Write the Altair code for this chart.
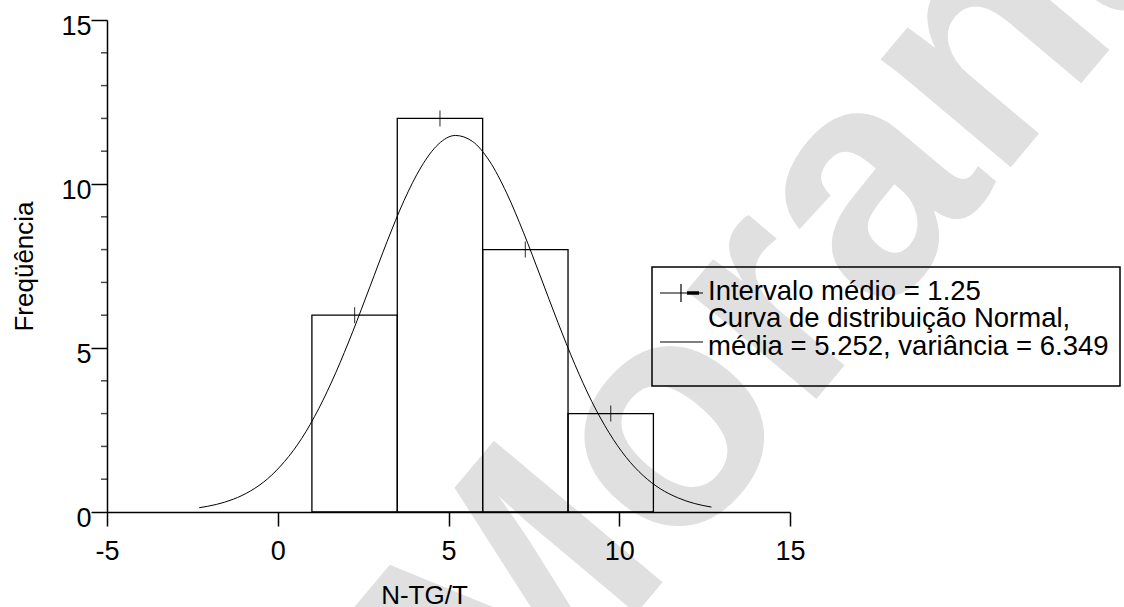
import altair as alt
import pandas as pd

# Histogram bins (N-TG/T) and frequencies
bin_start = [1.0, 3.5, 6.0, 8.5]
bin_end = [3.5, 6.0, 8.5, 11.0]
freq = [6, 12, 8, 3]
bin_mid = [2.25, 4.75, 7.25, 9.75]

# Normal curve
curve_x = [-2.3, -1.8, -1.3, -0.8, -0.3, 0.2, 0.7, 1.2, 1.7, 2.2, 2.7, 3.2, 3.7, 4.2, 4.7,
           5.2, 5.7, 6.2, 6.7, 7.2, 7.7, 8.2, 8.7, 9.2, 9.7, 10.2, 10.7, 11.2, 11.7, 12.2, 12.7]
curve_y = [0.13, 0.23, 0.39, 0.64, 1.01, 1.54, 2.24, 3.15, 4.25, 5.51, 6.87, 8.24, 9.50, 10.52, 11.21,
           11.48, 11.30, 10.70, 9.73, 8.51, 7.16, 5.79, 4.50, 3.36, 2.42, 1.67, 1.11, 0.71, 0.44, 0.26, 0.15]

x_ticks = [-5, 0, 5, 10, 15]
y_ticks = [0, 5, 10, 15]
y_minor = [1, 2, 3, 4, 6, 7, 8, 9, 11, 12, 13, 14]

legend_lines = ["Intervalo médio = 1.25",
                "Curva de distribuição Normal,",
                "média = 5.252, variância = 6.349"]

FONT = "Liberation Sans"
W, H = 683, 492
L, T = 107, 20

xs = alt.Scale(domain=[-5, 15], nice=False, zero=False)
ys = alt.Scale(domain=[0, 15], nice=False)

bars_df = pd.DataFrame({"x0": bin_start, "x1": bin_end, "f": freq, "mid": bin_mid})
curve_df = pd.DataFrame({"x": curve_x, "y": curve_y})
minor_df = pd.DataFrame({"v": y_minor})
one = pd.DataFrame({"a": [0]})

xaxis = alt.Axis(values=x_ticks, tickSize=14, tickWidth=1.5, domainWidth=1.5,
                 labelFontSize=27, labelPadding=12, labelFont=FONT, labelFlush=False,
                 labelExpr="'' + datum.value", zindex=1,
                 title="N-TG/T", titleFontSize=26, titleFont=FONT, titleFontWeight="normal",
                 titleX=317, titleY=91, titleAlign="center", titleBaseline="alphabetic",
                 grid=False, domainColor="black", tickColor="black", labelColor="black", titleColor="black")
yaxis = alt.Axis(values=y_ticks, tickSize=16, tickWidth=1.5, domainWidth=1.5,
                 labelFontSize=27, labelPadding=0, labelOffset=6, labelBaseline="middle",
                 labelFont=FONT, labelFlush=False, labelExpr="'' + datum.value", zindex=1,
                 title="Freqüência", titleFontSize=26, titleFont=FONT, titleFontWeight="normal",
                 titleAngle=270, titleX=-75, titleY=246, titleAlign="center", titleBaseline="alphabetic",
                 grid=False, domainColor="black", tickColor="black", labelColor="black", titleColor="black")

watermark = alt.Chart(one).mark_text(
    text="Morana", angle=310, fontSize=320, fontWeight="bold", font=FONT,
    color="#e0e0e0", align="left", baseline="alphabetic"
).encode(x=alt.value(505 - L), y=alt.value(770 - T))

bars = alt.Chart(bars_df).mark_rect(fillOpacity=0, stroke="black", strokeWidth=1.3).encode(
    x=alt.X("x0:Q", scale=xs, axis=xaxis),
    x2="x1:Q",
    y=alt.Y("f:Q", scale=ys, axis=yaxis),
    y2=alt.datum(0),
)

curve = alt.Chart(curve_df).mark_line(color="black", strokeWidth=1, interpolate="monotone").encode(
    x=alt.X("x:Q", scale=xs), y=alt.Y("y:Q", scale=ys)
)

bar_ticks = alt.Chart(bars_df).mark_tick(orient="vertical", size=16, thickness=1.2, color="black").encode(
    x=alt.X("mid:Q", scale=xs), y=alt.Y("f:Q", scale=ys)
)

minor = alt.Chart(minor_df).mark_tick(orient="horizontal", size=6, thickness=1.5, color="black").encode(
    y=alt.Y("v:Q", scale=ys), x=alt.value(-3)
)

# Legend box
lb = alt.Chart(one).mark_rect(fillOpacity=0, stroke="black", strokeWidth=1.5).encode(
    x=alt.value(652 - L), x2=alt.value(1120 - L), y=alt.value(267 - T), y2=alt.value(386 - T)
)
l1 = alt.Chart(one).mark_rule(color="black", strokeWidth=1.2).encode(
    x=alt.value(660 - L), x2=alt.value(703 - L), y=alt.value(293 - T)
)
l1t = alt.Chart(one).mark_rule(color="black", strokeWidth=1.2).encode(
    x=alt.value(681 - L), y=alt.value(284 - T), y2=alt.value(302 - T)
)
l1a = alt.Chart(one).mark_rule(color="black", strokeWidth=3.5).encode(
    x=alt.value(687 - L), x2=alt.value(699 - L), y=alt.value(293 - T)
)
l2 = alt.Chart(one).mark_rule(color="black", strokeWidth=1.2).encode(
    x=alt.value(660 - L), x2=alt.value(703 - L), y=alt.value(342 - T)
)
texts = []
for txt, yb in zip(legend_lines, [300, 327, 355]):
    texts.append(alt.Chart(one).mark_text(
        text=txt, align="left", baseline="alphabetic", fontSize=27.5, font=FONT, color="black"
    ).encode(x=alt.value(708 - L), y=alt.value(yb - T)))

chart = alt.layer(watermark, bars, curve, bar_ticks, minor, lb, l1, l1t, l1a, l2, *texts).properties(
    width=W, height=H,
    autosize=alt.AutoSizeParams(type="none"),
    padding={"left": L, "top": T, "right": 1124 - L - W, "bottom": 607 - T - H},
).configure(background="white", view=alt.ViewConfig(stroke="transparent", strokeWidth=0))

chart.save("out.html", embed_options={"renderer": "svg", "actions": False})
